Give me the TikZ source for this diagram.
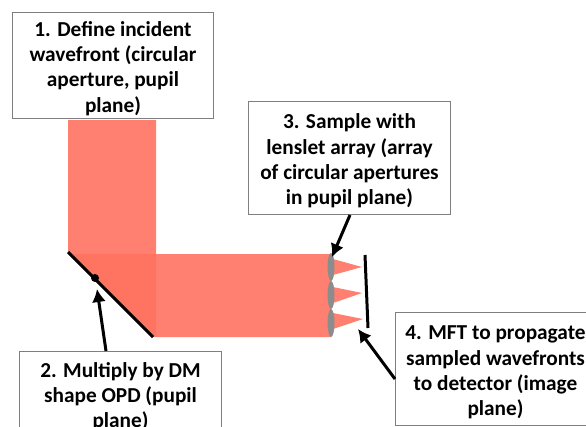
\documentclass[tikz,border=0pt]{standalone}
\usepackage{fontspec}
\usetikzlibrary{arrows.meta,shapes.geometric}
\setmainfont{Carlito}
\definecolor{beamRed}{HTML}{FF7260}
\definecolor{boxGrey}{HTML}{7F7F7F}
\definecolor{lensGrey}{HTML}{8C8C8C}
\newcommand{\lowText}{\rule{0pt}{21pt}}

\begin{document}
\begin{tikzpicture}[%%
  x=1pt,y=-1pt,%%
  boxStyle/.style={draw=boxGrey,line width=1pt,fill=white,align=center,anchor=north west,inner sep=0pt,font=\bfseries\fontsize{21.3}{25.3}\selectfont},%%
  beamStyle/.style={fill=beamRed,fill opacity=0.9},%%
  lensStyle/.style={fill=lensGrey,draw=none,ellipse,minimum width=7pt,minimum height=28pt,inner sep=0pt},%%
  lineStyle/.style={-,line width=3pt,black},%%
  arrowStyle/.style={-{Latex[length=13pt,width=14pt]},line width=3pt,black}%%
]
\useasboundingbox (0,0) rectangle (586,426);
\clip (0,0) rectangle (586,426);
%%
%% Beam, with the overlap under the mirror.
\fill[beamStyle] (68,120) -- (156,120) -- (156,337) -- (68,252) -- cycle;
\fill[beamStyle] (68,254) -- (331,254) -- (331,337) -- (153,337) -- cycle;
%%
%% Spots after the lenslets.
\fill[beamStyle] (333,259) -- (362,267) -- (333,275) -- cycle;
\fill[beamStyle] (333,287) -- (362,293) -- (333,303) -- cycle;
\fill[beamStyle] (333,313) -- (363,319) -- (333,329) -- cycle;
%%
%% Lenslets.
\node (LensA) at (331,267) [lensStyle] {};
\node (LensB) at (331,295) [lensStyle] {};
\node (LensC) at (331,323) [lensStyle] {};
%%
%% End points of the lines and arrows.
\coordinate (MirrorTop) at (68,252);
\coordinate (MirrorBottom) at (153,337);
\coordinate (MirrorBump) at (95,278);
\coordinate (DetectorTop) at (365,255);
\coordinate (DetectorBottom) at (368,328);
\coordinate (MirrorTip) at (97,289);
\coordinate (LensTip) at (332,257);
\coordinate (DetectorTip) at (358,329);
%%
%% Mirror and detector.
\fill[black] (MirrorBump) circle (4pt);
\draw[lineStyle] (MirrorTop) -- (MirrorBottom);
\draw[lineStyle] (DetectorTop) -- (DetectorBottom);
%%
%% Text boxes.
\node (Define) at (12,12) [boxStyle,minimum width=201pt,minimum height=106pt] {\lowText 1. Define incident\\wavefront (circular\\aperture, pupil\\plane)};
\node (Multiply) at (19,351) [boxStyle,minimum width=202pt,minimum height=90pt] {2. Multiply by DM\\shape OPD (pupil\\plane)};
\node (Sample) at (248,101) [boxStyle,minimum width=202pt,minimum height=113pt] {\lowText 3. Sample with\\lenslet array (array\\of circular apertures\\in pupil plane)};
\node (Mft) at (395,312) [boxStyle,minimum width=200pt,minimum height=113pt] {\lowText 4. MFT to propagate\\sampled wavefronts\\to detector (image\\plane)};
%%
%% Arrows from the boxes.
\draw[arrowStyle] ([xshift=87pt]Multiply.north west) -- (MirrorTip);
\draw[arrowStyle] ([xshift=102pt]Sample.south west) -- (LensTip);
\draw[arrowStyle] ([yshift=-10pt]Mft.west) -- (DetectorTip);
\end{tikzpicture}
\end{document}
